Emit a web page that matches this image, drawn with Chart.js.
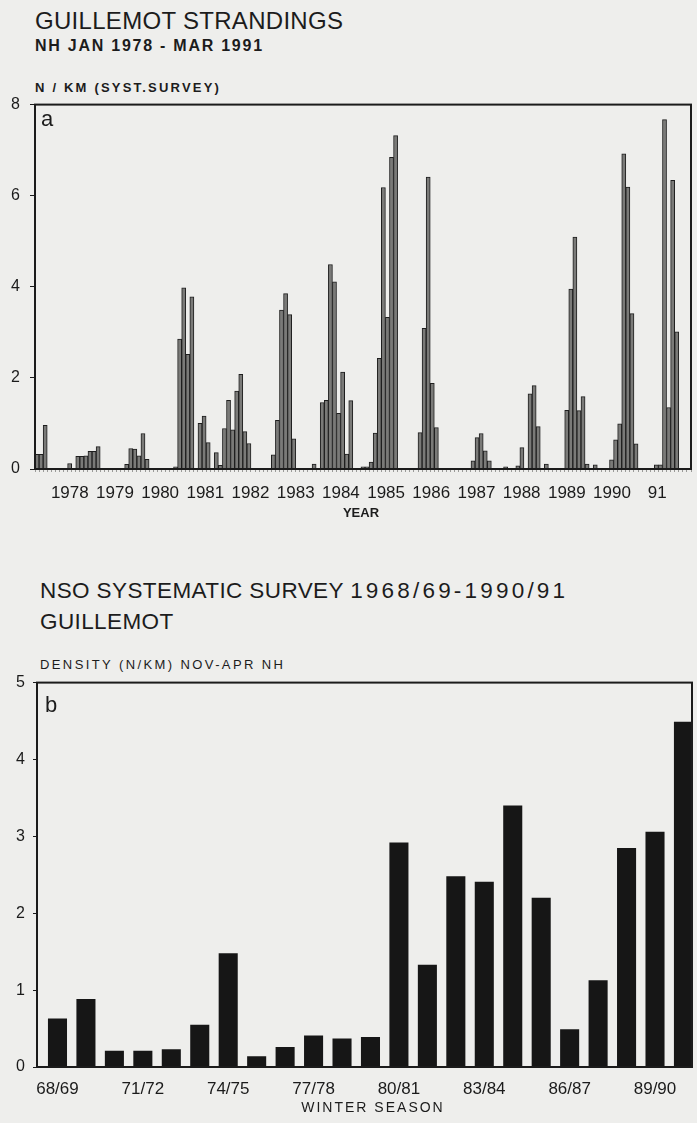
<!DOCTYPE html>
<html>
<head>
<meta charset="utf-8">
<script src="https://cdn.jsdelivr.net/npm/chart.js@4.4.1/dist/chart.umd.min.js"></script>
<style>
    body { margin: 0; background: #eeeeec; }
    #page {
        position: relative;
        width: 697px;
        height: 1123px;
        overflow: hidden;
        font-family: "Liberation Sans", Arial, sans-serif;
        color: #1c1c1c;
    }
    .txt { position: absolute; white-space: nowrap; line-height: 1; }
    canvas { position: absolute; left: 0; }
    #chartA { top: 85px; }
    #chartB { top: 665px; }
</style>
</head>
<body>
<div id="page">
    <div class="txt" style="left:35px; top:9px; font-size:24px; letter-spacing:0.3px;">GUILLEMOT STRANDINGS</div>
    <div class="txt" style="left:35px; top:38px; font-size:16px; font-weight:bold; letter-spacing:1.75px;">NH JAN 1978 - MAR 1991</div>
    <div class="txt" style="left:35px; top:81px; font-size:13px; font-weight:bold; letter-spacing:2.2px;">N / KM (SYST.SURVEY)</div>

    <canvas id="chartA" width="697" height="445"></canvas>
    <div class="txt" style="left:41px; top:108px; font-size:22px;">a</div>
    <div class="txt" style="left:261px; width:200px; text-align:center; top:506px; font-size:13px; font-weight:bold;">YEAR</div>

    <div class="txt" style="left:40px; top:580px; font-size:22.5px; letter-spacing:0.4px;">NSO SYSTEMATIC SURVEY <span style="letter-spacing:3.2px;">1968/69-1990/91</span></div>
    <div class="txt" style="left:40px; top:611px; font-size:22.5px; letter-spacing:0.4px;">GUILLEMOT</div>
    <div class="txt" style="left:40px; top:658px; font-size:13px; letter-spacing:2.4px;">DENSITY (N/KM) NOV-APR NH</div>

    <canvas id="chartB" width="697" height="458"></canvas>
    <div class="txt" style="left:45px; top:694px; font-size:22px;">b</div>
    <div class="txt" style="left:273px; width:200px; text-align:center; top:1100px; font-size:14px; letter-spacing:2px;">WINTER SEASON</div>
</div>

<script>
// panel a: monthly strandings, N per km (systematic survey)
const monthNames = ['Jan', 'Feb', 'Mar', 'Apr', 'May', 'Jun', 'Jul', 'Aug', 'Sep', 'Oct', 'Nov', 'Dec'];
const surveyYears = [1978, 1979, 1980, 1981, 1982, 1983, 1984, 1985, 1986, 1987, 1988, 1989, 1990, 1991];

const nh1978 = [0.32, 0.32, 0.96, 0, 0, 0, 0, 0, 0.12, 0, 0.28, 0.28];
const nh1979 = [0.29, 0.39, 0.39, 0.49, 0, 0, 0, 0, 0, 0, 0.10, 0.45];
const nh1980 = [0.44, 0.29, 0.78, 0.21, 0, 0, 0, 0, 0, 0, 0.05, 2.85];
const nh1981 = [3.98, 2.52, 3.78, 0, 1.00, 1.16, 0.58, 0, 0.36, 0.08, 0.89, 1.51];
const nh1982 = [0.86, 1.71, 2.08, 0.82, 0.56, 0, 0, 0, 0, 0, 0.31, 1.07];
const nh1983 = [3.49, 3.85, 3.39, 0.66, 0, 0, 0, 0, 0.11, 0, 1.46, 1.51];
const nh1984 = [4.49, 4.11, 1.22, 2.13, 0.33, 1.50, 0, 0, 0.05, 0.05, 0.15, 0.79];
const nh1985 = [2.43, 6.18, 3.33, 6.84, 7.32, 0, 0, 0, 0, 0, 0.80, 3.09];
const nh1986 = [6.41, 1.88, 0.91, 0, 0, 0, 0, 0, 0, 0, 0, 0.18];
const nh1987 = [0.69, 0.78, 0.40, 0.18, 0, 0, 0, 0.05, 0, 0, 0.07, 0.47];
const nh1988 = [0, 1.65, 1.83, 0.93, 0, 0.11, 0, 0, 0, 0, 1.29, 3.95];
const nh1989 = [5.09, 1.28, 1.59, 0.11, 0, 0.09, 0, 0, 0, 0.20, 0.64, 0.99];
const nh1990 = [6.92, 6.19, 3.41, 0.55, 0, 0, 0, 0, 0.09, 0.09, 7.67, 1.35];
const nh1991 = [6.34, 3.01, 0];

const yearTickLabels = ['1978', '1979', '1980', '1981', '1982', '1983', '1984', '1985',
    '1986', '1987', '1988', '1989', '1990', '91'];

// panel b: winter density Nov-Apr
const seasons = ['68/69', '69/70', '70/71', '71/72', '72/73', '73/74', '74/75', '75/76',
    '76/77', '77/78', '78/79', '79/80', '80/81', '81/82', '82/83', '83/84', '84/85',
    '85/86', '86/87', '87/88', '88/89', '89/90', '90/91'];
const seasonDensity = [0.63, 0.885, 0.21, 0.21, 0.23, 0.55, 1.48, 0.14, 0.26, 0.41, 0.37,
    0.39, 2.92, 1.33, 2.48, 2.41, 3.40, 2.20, 0.49, 1.13, 2.85, 3.06, 4.49];

const ink = '#1b1b1b';
const axisMonths = 161;

const framePlugin = {
    id: 'frame',
    afterDraw(chart) {
        const { ctx, chartArea: a } = chart;
        ctx.save();
        ctx.strokeStyle = ink;
        ctx.lineWidth = 2;
        ctx.strokeRect(a.left, a.top, a.right - a.left, a.bottom - a.top);
        ctx.restore();
    }
};

Chart.defaults.font.family = '"Liberation Sans", Arial, sans-serif';
Chart.defaults.color = ink;
Chart.defaults.animation = false;

function initStrandingsChart() {
    const ctx = document.getElementById('chartA');

    const monthLabels = surveyYears
        .flatMap(y => monthNames.map(m => m + ' ' + y))
        .slice(0, axisMonths);

    const strandings = [].concat(nh1978, nh1979, nh1980, nh1981, nh1982, nh1983, nh1984,
        nh1985, nh1986, nh1987, nh1988, nh1989, nh1990, nh1991);

    new Chart(ctx, {
        type: 'bar',
        data: {
            labels: monthLabels,
            datasets: [{
                data: strandings,
                backgroundColor: '#7a7a78',
                borderColor: '#1e1e1e',
                borderWidth: 1,
                barPercentage: 1,
                categoryPercentage: 1,
                xAxisID: 'x'
            }]
        },
        options: {
            responsive: false,
            layout: { padding: { top: 9, right: 6, left: 0, bottom: 0 } },
            plugins: { legend: { display: false }, tooltip: { enabled: false } },
            scales: {
                x: {
                    type: 'category',
                    position: 'bottom',
                    offset: true,
                    ticks: { display: false },
                    grid: { drawOnChartArea: false, tickLength: 3, color: '#9a9a98' },
                    border: { display: false },
                    afterFit(scale) { scale.height = 4; }
                },
                years: {
                    type: 'linear',
                    position: 'bottom',
                    offset: false,
                    min: -0.77,
                    max: 13.748,
                    grid: { display: false, drawTicks: false, offset: false },
                    border: { display: false },
                    ticks: {
                        autoSkip: false,
                        maxRotation: 0,
                        padding: 10,
                        font: { size: 17 },
                        callback: v => yearTickLabels[v]
                    },
                    afterBuildTicks(scale) {
                        scale.ticks = yearTickLabels.map((_, k) => ({ value: k }));
                    },
                    afterFit(scale) { scale.height = 57; }
                },
                y: {
                    min: 0,
                    max: 8,
                    ticks: { stepSize: 2, padding: 10, font: { size: 16 } },
                    grid: { drawOnChartArea: false, tickLength: 5, color: ink },
                    border: { display: false },
                    afterFit(scale) { scale.width = 35; }
                }
            }
        },
        plugins: [framePlugin]
    });
}

function initSeasonChart() {
    const ctx = document.getElementById('chartB');

    new Chart(ctx, {
        type: 'bar',
        data: {
            datasets: [{
                data: seasons.map((s, i) => ({ x: i, y: seasonDensity[i] })),
                backgroundColor: '#161616',
                borderWidth: 0,
                barPercentage: 0.67,
                categoryPercentage: 1
            }]
        },
        options: {
            responsive: false,
            layout: { padding: { top: 10, right: 5, left: 0, bottom: 0 } },
            plugins: { legend: { display: false }, tooltip: { enabled: false } },
            scales: {
                x: {
                    type: 'linear',
                    offset: false,
                    min: -0.72,
                    max: 22.3,
                    grid: { display: false, drawTicks: false, offset: false },
                    border: { display: false },
                    ticks: {
                        autoSkip: false,
                        maxRotation: 0,
                        padding: 12,
                        font: { size: 17 },
                        callback: v => seasons[v]
                    },
                    afterBuildTicks(scale) {
                        scale.ticks = seasons
                            .map((s, i) => i)
                            .filter(i => i % 3 === 0)
                            .map(i => ({ value: i }));
                    },
                    afterFit(scale) { scale.height = 56; }
                },
                y: {
                    min: 0,
                    max: 5,
                    ticks: { stepSize: 1, padding: 8, font: { size: 16 } },
                    grid: { drawOnChartArea: false, tickLength: 4, color: ink },
                    border: { display: false },
                    afterFit(scale) { scale.width = 37; }
                }
            }
        },
        plugins: [framePlugin]
    });
}

document.addEventListener('DOMContentLoaded', function() {
    initStrandingsChart();
    initSeasonChart();
});
</script>
</body>
</html>
